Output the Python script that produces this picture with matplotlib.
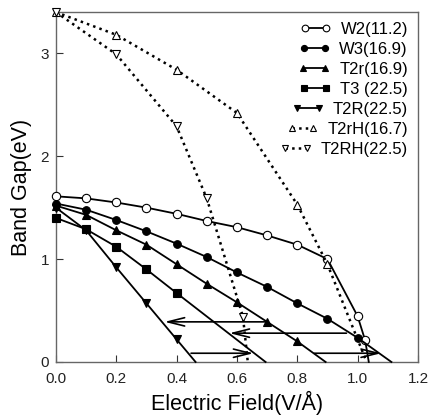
import matplotlib
matplotlib.use("Agg")
import matplotlib.pyplot as plt

plt.rcParams['font.family'] = ['Liberation Sans', 'DejaVu Sans']

# Data (Electric field in V/Å, band gap in eV)
w2_x = [0.0, 0.1, 0.2, 0.3, 0.4, 0.5, 0.6, 0.7, 0.8, 0.9, 1.0, 1.025, 1.037]
w2_y = [1.61, 1.59, 1.55, 1.50, 1.44, 1.37, 1.31, 1.23, 1.14, 1.00, 0.445, 0.21, 0.0]

w3_x = [0.0, 0.1, 0.2, 0.3, 0.4, 0.5, 0.6, 0.7, 0.8, 0.9, 1.0, 1.112]
w3_y = [1.54, 1.48, 1.38, 1.27, 1.15, 1.02, 0.87, 0.73, 0.57, 0.42, 0.235, 0.0]

t2r_x = [0.0, 0.1, 0.2, 0.3, 0.4, 0.5, 0.6, 0.7, 0.8, 0.894]
t2r_y = [1.52, 1.43, 1.28, 1.14, 0.95, 0.76, 0.58, 0.39, 0.20, 0.0]

t3_x = [0.0, 0.1, 0.2, 0.3, 0.4, 0.695]
t3_y = [1.40, 1.29, 1.12, 0.90, 0.67, 0.0]

t2R_x = [0.0, 0.1, 0.2, 0.3, 0.4, 0.463]
t2R_y = [1.50, 1.28, 0.92, 0.57, 0.22, 0.0]

t2rH_x = [0.0, 0.2, 0.4, 0.6, 0.8, 0.9, 1.03]
t2rH_y = [3.40, 3.18, 2.84, 2.42, 1.53, 0.95, 0.0]

t2RH_x = [0.0, 0.2, 0.4, 0.5, 0.62, 0.636]
t2RH_y = [3.40, 2.99, 2.29, 1.59, 0.44, 0.0]

# arrows: (x_start, x_end, y)
arrows_x0 = [0.70, 0.963, 0.448, 0.857]
arrows_x1 = [0.36, 0.575, 0.655, 1.078]
arrows_y = [0.39, 0.28, 0.085, 0.085]

labels = ['W2(11.2)', 'W3(16.9)', 'T2r(16.9)', 'T3 (22.5)', 'T2R(22.5)',
          'T2rH(16.7)', 'T2RH(22.5)']

fig = plt.figure(figsize=(4.30, 4.18), dpi=100)
ax = fig.add_axes([0.130, 0.134, 0.842, 0.837])

ms = 5.5
lw = 1.3
series = [
    (w2_x, w2_y, 'o', 'white', '-'),
    (w3_x, w3_y, 'o', 'black', '-'),
    (t2r_x, t2r_y, '^', 'black', '-'),
    (t3_x, t3_y, 's', 'black', '-'),
    (t2R_x, t2R_y, 'v', 'black', '-'),
    (t2rH_x, t2rH_y, '^', 'white', ':'),
    (t2RH_x, t2RH_y, 'v', 'white', ':'),
]
for (xs, ys, mk, fc, ls), lab in zip(series, labels):
    n = len(xs)
    ax.plot(xs, ys, linestyle=ls, color='black',
            linewidth=(1.8 if ls == ':' else lw),
            marker=mk, markersize=(ms if fc == 'black' else ms + 0.5),
            markerfacecolor=fc, markeredgecolor='black', markeredgewidth=0.8,
            markevery=list(range(n - 1)), label=lab, clip_on=False, zorder=3)

for x0, x1, y in zip(arrows_x0, arrows_x1, arrows_y):
    ax.annotate('', xy=(x1, y), xytext=(x0, y),
                arrowprops=dict(arrowstyle='->,head_length=1.2,head_width=0.3',
                                color='black', lw=1.2,
                                shrinkA=0, shrinkB=0))

ax.set_xlim(0, 1.2)
ax.set_ylim(0, 3.4)
ax.set_xticks([0.0, 0.2, 0.4, 0.6, 0.8, 1.0, 1.2])
ax.set_xticklabels(['0.0', '0.2', '0.4', '0.6', '0.8', '1.0', '1.2'])
ax.set_yticks([0, 1, 2, 3])
ax.tick_params(direction='in', length=5, width=0.8, labelsize=11,
               colors='#333333', labelcolor='#222222')
ax.tick_params(axis='x', pad=7)
ax.tick_params(axis='y', pad=5)
for sp in ax.spines.values():
    sp.set_color('#666666')
    sp.set_linewidth(1.0)

ax.set_xlabel('Electric Field(V/Å)', fontsize=15.5, labelpad=4)
ax.set_ylabel('Band Gap(eV)', fontsize=15.5, labelpad=6)

leg = ax.legend(loc='upper right', frameon=False, fontsize=12,
                handlelength=1.9, handletextpad=0.55, labelspacing=0.3,
                borderaxespad=0.2, numpoints=2, markerscale=0.8)
for h in leg.legend_handles:
    h.set_markevery(None)
# right-align legend rows (text right edges aligned, as in the reference)
for col in leg._legend_handle_box.get_children():
    col.align = 'right'

fig.savefig('out.png', dpi=100)
